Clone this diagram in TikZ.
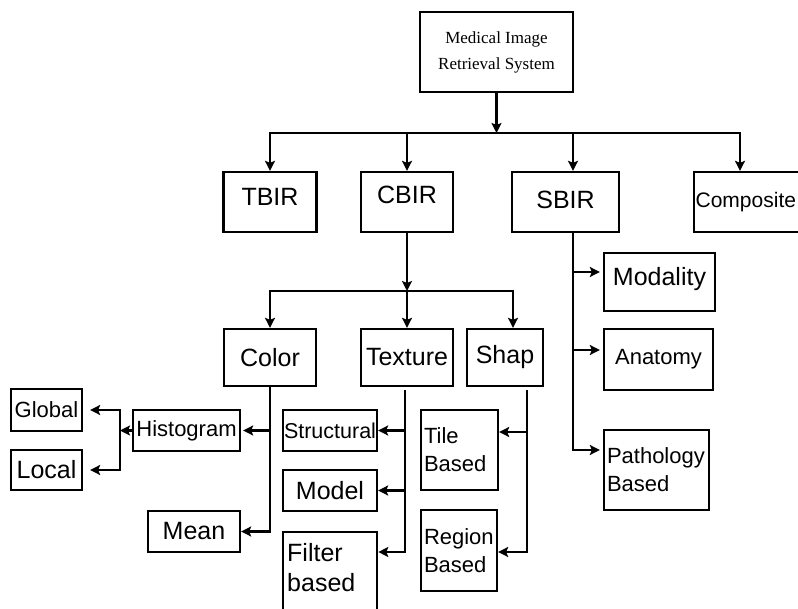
\documentclass[tikz,border=0pt]{standalone}
\usepackage{fontspec}
\setmainfont{Liberation Sans}
\newfontfamily\serifface{Liberation Serif}
\usetikzlibrary{arrows.meta,calc}
\begin{document}
\begin{tikzpicture}[x=1pt,y=-1pt,
  box/.style={draw, line width=2.3pt, inner sep=3pt, font=\fontsize{25}{29}\selectfont},
  boxsm/.style={box, font=\fontsize{22}{28}\selectfont},
  conn/.style={line width=2.7pt, line cap=rect},
  arr/.style={line width=2.7pt, -{Stealth[length=10pt,width=10pt,inset=2pt]}},
]
\useasboundingbox[fill=white] (0,0) rectangle (798,609);

% nodes
\node[box, minimum width=153pt, minimum height=80pt, font=\serifface\fontsize{17}{26}\selectfont, align=center] (mirs) at (496.5,52) {Medical Image\\Retrieval System};
\node[box, minimum width=93pt, minimum height=60pt, text depth=10pt] (tbir) at (270,202) {TBIR};
\node[box, minimum width=92pt, minimum height=60pt, text depth=14pt] (cbir) at (407,202) {CBIR};
\node[box, minimum width=107pt, minimum height=60pt, text depth=4pt] (sbir) at (565.5,202) {SBIR};
\node[box, minimum width=140pt, minimum height=60pt, anchor=west, inner xsep=0pt, text width=137pt, align=left, font=\fontsize{21}{28}\selectfont] (comp) at (693,202) {Composite};

\node[box, minimum width=92pt, minimum height=57pt] (color) at (270,357.5) {Color};
\node[box, minimum width=92pt, minimum height=57pt] (texture) at (407,357.5) {Texture};
\node[box, minimum width=76pt, minimum height=57pt] (shap) at (505,357.5) {Shap};

\node[box, minimum width=111pt, minimum height=58pt, text depth=12pt] (modality) at (659.5,282) {Modality};
\node[boxsm, minimum width=109pt, minimum height=61pt] (anatomy) at (658.5,359.5) {Anatomy};
\node[boxsm, minimum width=105pt, minimum height=80pt, text width=99pt, align=left] (patho) at (656.5,470) {Pathology\\Based};

\node[boxsm, minimum width=71pt, minimum height=42pt] (global) at (46.5,410) {Global};
\node[box, minimum width=71pt, minimum height=40pt] (local) at (46.5,470) {Local};
\node[boxsm, minimum width=107pt, minimum height=41pt] (hist) at (186.5,430.5) {Histogram};
\node[box, minimum width=92pt, minimum height=41pt] (mean) at (194,531.5) {Mean};

\node[box, minimum width=94pt, minimum height=41pt, inner xsep=0pt, font=\fontsize{21.5}{28}\selectfont] (struct) at (330,430.5) {Structural};
\node[box, minimum width=94pt, minimum height=41pt] (model) at (330,490.5) {Model};
\node[box, minimum width=94pt, minimum height=100pt, anchor=north west] (filter) at (282,531) {};
\node[font=\fontsize{25}{30}\selectfont, align=left, anchor=north west, inner sep=0pt] (filtertxt) at (287,543) {Filter\\based};

\node[boxsm, minimum width=77pt, minimum height=80pt, text width=71pt, align=left] (tile) at (459.5,450) {Tile\\Based};
\node[boxsm, minimum width=76pt, minimum height=81pt, text width=70pt, align=left] (region) at (459,550.5) {Region\\Based};

% top level connectors
\coordinate (j0) at (497,133);
\coordinate (bl) at (270,133);
\coordinate (br) at (740,133);
\coordinate (js) at (573,133);
\draw[arr] (mirs.south) -- (mirs.south |- j0);
\draw[conn] (bl) -- (br);
\draw[arr] (bl) -- (tbir.north);
\draw[arr] (cbir.north |- bl) -- (cbir.north);
\draw[arr] (js) -- (js |- sbir.north);
\draw[arr] (br) -- (br |- comp.north);

% CBIR branch
\coordinate (c2) at (407,291);
\coordinate (c2l) at (270,291);
\coordinate (c2r) at (513,291);
\draw[arr] (cbir.south) -- (c2);
\draw[conn] (c2l) -- (c2r);
\draw[arr] (c2l) -- (color.north);
\draw[arr] (c2) -- (texture.north);
\draw[arr] (c2r) -- (c2r |- shap.north);

% Color branch
\draw[arr] (color.south) |- (mean.east);
\draw[arr, shorten >=2pt] (color.south |- hist.east) -- (hist.east);
\coordinate (bk) at (120,430.5);
\draw[arr] (hist.west) -- (bk);
\draw[arr, shorten >=7pt] (bk) |- (global.east);
\draw[arr, shorten >=7pt] (bk) |- (local.east);

% Texture branch
\coordinate (tx) at (405,390);
\coordinate (txb) at (405,552);
\draw[arr] (tx) |- (filter.east |- txb);
\draw[arr] (tx |- struct.east) -- (struct.east);
\draw[arr] (tx |- model.east) -- (model.east);

% Shape branch
\coordinate (sx) at (527,390);
\coordinate (sxb) at (527,552);
\coordinate (st) at (527,432);
\draw[arr] (sx) |- (region.east |- sxb);
\draw[arr] (st) -- (tile.east |- st);

% SBIR branch
\coordinate (sb) at (573,450);
\coordinate (sm) at (573,272);
\coordinate (sa) at (573,350);
\draw[arr, shorten >=3pt] (js |- sbir.south) |- (patho.west |- sb);
\draw[arr, shorten >=3pt] (sm) -- (modality.west |- sm);
\draw[arr, shorten >=3pt] (sa) -- (anatomy.west |- sa);
\end{tikzpicture}
\end{document}
